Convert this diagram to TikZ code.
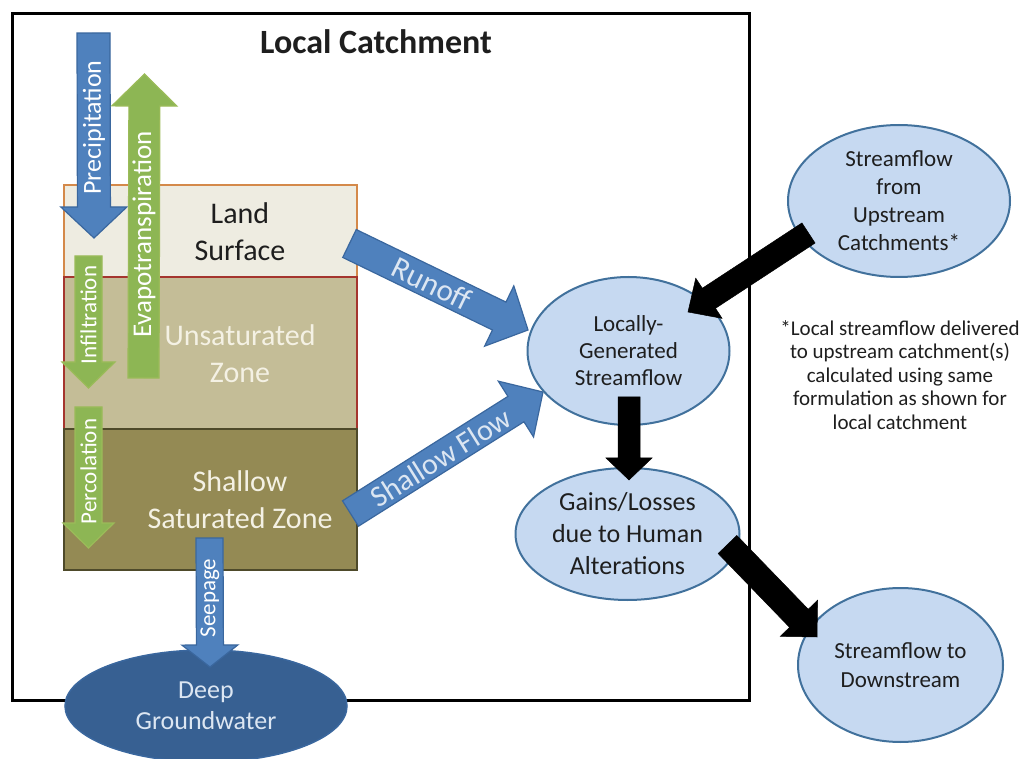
\documentclass[tikz,border=0pt]{standalone}
\usepackage{fontspec}
\setmainfont{Carlito}
\usetikzlibrary{calc,shapes.geometric}
\definecolor{landfill}{HTML}{EEECE1}
\definecolor{landedge}{HTML}{D4894A}
\definecolor{unsatfill}{HTML}{C4BD97}
\definecolor{redline}{HTML}{A5352E}
\definecolor{satfill}{HTML}{948A54}
\definecolor{satedge}{HTML}{4E4A2A}
\definecolor{bluefill}{HTML}{4F81BD}
\definecolor{blueedge}{HTML}{3A679E}
\definecolor{greenfill}{HTML}{8DB654}
\definecolor{greenedge}{HTML}{9BBB59}
\definecolor{ellfill}{HTML}{C6D9F1}
\definecolor{elledge}{HTML}{41719C}
\definecolor{deepfill}{HTML}{376092}
\definecolor{deeptext}{HTML}{DCE6F2}
\definecolor{cream}{HTML}{F4F1E4}
\definecolor{darktext}{HTML}{1E1E1E}
\newcommand{\fatarrow}[6]{%
  \coordinate (hb) at ($(#3)!#6!(#2)$);
  \draw[#1] ($(#2)!#4!90:(#3)$) -- ($(hb)!#4!-90:(#2)$) -- ($(hb)!#5!-90:(#2)$) -- (#3)
    -- ($(hb)!#5!90:(#2)$) -- ($(hb)!#4!90:(#2)$) -- ($(#2)!#4!-90:(#3)$) -- cycle;}
\tikzset{
  bluearrow/.style={fill=bluefill, draw=blueedge, line width=1.2pt, line join=miter},
  greenarrow/.style={fill=greenfill, draw=greenedge, line width=1.2pt},
  blackarrow/.style={fill=black, draw=black, line width=0.5pt},
  ell/.style={ellipse, draw=elledge, fill=ellfill, line width=2pt, inner sep=0pt, align=center, text=darktext},
  arrlabel/.style={text=white, inner sep=0pt},
  zonetext/.style={align=center, font=\fontsize{30}{37}\selectfont},
  layer/.style={line width=2pt, minimum width=293pt, anchor=north west, inner sep=0pt}
}
\begin{document}
\begin{tikzpicture}[x=1pt,y=-1pt]
\useasboundingbox (0,0) rectangle (1021,759);
% outer catchment box
\draw[line width=3pt] (12,14) rectangle (749,700);
\node[font=\fontsize{34}{40}\selectfont\bfseries, text=darktext] (title) at (376,42) {Local Catchment};
% layers
\node[layer, draw=landedge, fill=landfill, minimum height=92pt] (land) at (63,184) {};
\node[layer, draw=redline, fill=unsatfill, minimum height=152pt] (unsat) at (63,276) {};
\node[layer, draw=satedge, fill=satfill, minimum height=141pt] (sat) at (63,428) {};
\node[zonetext, text=darktext] (landtxt) at (240,231.5) {Land\\Surface};
\node[zonetext, text=cream] (unsattxt) at (240,353.5) {Unsaturated\\Zone};
\node[zonetext, text=cream] (sattxt) at (240,500) {Shallow\\Saturated Zone};
% vertical arrows
\coordinate (precS) at (93.5,33); \coordinate (precE) at (94,238);
\fatarrow{bluearrow}{precS}{precE}{16.5pt}{33pt}{31pt}
\node[arrlabel, rotate=90, font=\fontsize{26}{30}\selectfont] (prectxt) at (94,127.5) {Precipitation};
\coordinate (evapS) at (143.5,378); \coordinate (evapE) at (144.5,74);
\fatarrow{greenarrow}{evapS}{evapE}{15.5pt}{32.5pt}{32pt}
\node[arrlabel, rotate=90, font=\fontsize{27}{30}\selectfont] (evaptxt) at (144,234.5) {Evapotranspiration};
\coordinate (infS) at (88.5,256); \coordinate (infE) at (88.5,388);
\fatarrow{greenarrow}{infS}{infE}{13.5pt}{26.5pt}{26pt}
\node[arrlabel, rotate=90, font=\fontsize{23}{27}\selectfont] (inftxt) at (88.5,315) {Infiltration};
\coordinate (percS) at (88.5,407); \coordinate (percE) at (88.5,548);
\fatarrow{greenarrow}{percS}{percE}{13.5pt}{25.5pt}{25pt}
\node[arrlabel, rotate=90, font=\fontsize{23}{27}\selectfont] (perctxt) at (88.5,471.5) {Percolation};
% diagonal blue arrows
\coordinate (runS) at (349.5,243.5); \coordinate (runE) at (528,330);
\fatarrow{bluearrow}{runS}{runE}{15.5pt}{33.5pt}{32pt}
\node[arrlabel, rotate=-26, font=\fontsize{31}{34}\selectfont, text=deeptext] (runtxt) at (432,283.5) {Runoff};
\coordinate (shS) at (350.5,513.5); \coordinate (shE) at (543,392);
\fatarrow{bluearrow}{shS}{shE}{15pt}{33pt}{32pt}
\node[arrlabel, rotate=32, font=\fontsize{30}{34}\selectfont, text=deeptext] (shtxt) at (441,457.5) {Shallow Flow};
% ellipses
\node[ell, minimum width=202pt, minimum height=148pt, font=\fontsize{23}{27}\selectfont] (local) at (628.5,351) {Locally-\\Generated\\Streamflow};
\node[ell, minimum width=222pt, minimum height=152pt, font=\fontsize{23}{28}\selectfont] (up) at (899,201) {Streamflow\\from\\Upstream\\Catchments*};
\node[ell, minimum width=224pt, minimum height=132pt, font=\fontsize{26}{32}\selectfont] (gains) at (627.5,534) {Gains/Losses\\due to Human\\Alterations};
\node[ell, minimum width=205pt, minimum height=154pt, font=\fontsize{23}{29}\selectfont] (down) at (900.5,665) {Streamflow to\\Downstream};
\node[ellipse, fill=deepfill, draw=blueedge, line width=1.5pt, minimum width=282pt, minimum height=112pt, inner sep=0pt, align=center, text=deeptext, font=\fontsize{26}{31}\selectfont] (deep) at (206,706) {Deep\\Groundwater};
% seepage
\coordinate (seepS) at (209.5,538); \coordinate (seepE) at (210,667);
\fatarrow{bluearrow}{seepS}{seepE}{13.5pt}{28pt}{22pt}
\node[arrlabel, rotate=90, font=\fontsize{23}{27}\selectfont] (seeptxt) at (210,598) {Seepage};
% black arrows
\coordinate (b1S) at (808.5,233); \coordinate (b1E) at (688,312);
\fatarrow{blackarrow}{b1S}{b1E}{12pt}{24pt}{25pt}
\coordinate (b2S) at (629,397); \coordinate (b2E) at (629,480);
\fatarrow{blackarrow}{b2S}{b2E}{11pt}{23pt}{22pt}
\coordinate (b3S) at (727.5,544.5); \coordinate (b3E) at (817,637);
\fatarrow{blackarrow}{b3S}{b3E}{13pt}{26pt}{26pt}
% footnote
\node[align=center, text=darktext, font=\fontsize{21}{23.5}\selectfont] (note) at (900,375) {*Local streamflow delivered\\to upstream catchment(s)\\calculated using same\\formulation as shown for\\local catchment};
\end{tikzpicture}
\end{document}
